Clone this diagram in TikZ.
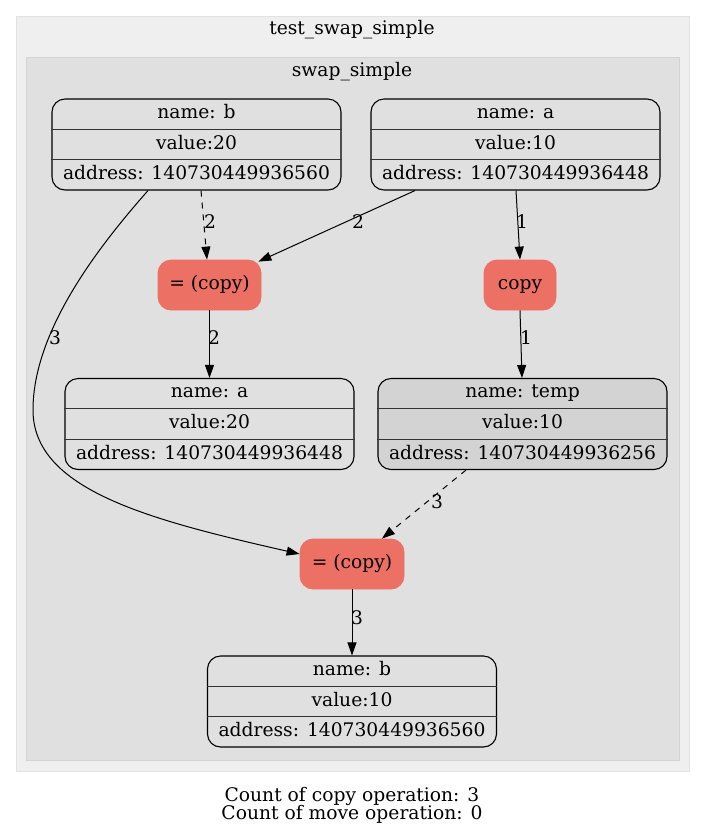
\documentclass[tikz,border=0pt]{standalone}
\usepackage{fontspec}
\setmainfont{DejaVu Serif}
\usetikzlibrary{calc,arrows.meta}
\definecolor{opfill}{RGB}{237,112,100}
\definecolor{outerfill}{RGB}{239,239,239}
\definecolor{outerline}{RGB}{226,226,226}
\definecolor{innerfill}{RGB}{224,224,224}
\definecolor{innerline}{RGB}{211,211,211}
\definecolor{tempfill}{RGB}{211,211,211}
\tikzset{
  every node/.style={font=\fontsize{9.35}{11}\selectfont, inner sep=0pt, text height=6.8pt, text depth=2.2pt},
  rec/.style={draw=black, line width=0.55pt, rounded corners=6.5pt, minimum width=144.5pt, minimum height=45.5pt},
  sepline/.style={draw=black!80, line width=0.6pt},
  op/.style={fill=opfill, draw=opfill, rounded corners=6.5pt, minimum height=25pt},
  conn/.style={draw=black, line width=0.5pt, -{Triangle[length=6.5pt,width=4.5pt]}},
  dashedconn/.style={conn, dash pattern=on 3pt off 3pt},
  cluster/.style={line width=0.5pt},
}
\newcommand\recnode[7]{%
  \node[rec, fill=#4] (#1) at (#2,#3) {};
  \draw[sepline] ($(#1.north west)!0.3333!(#1.south west)$) -- ($(#1.north east)!0.3333!(#1.south east)$);
  \draw[sepline] ($(#1.north west)!0.6667!(#1.south west)$) -- ($(#1.north east)!0.6667!(#1.south east)$);
  \node (#1n) at ($(#1.north)!0.1667!(#1.south)$) {#5};
  \node (#1v) at ($(#1.north)!0.5!(#1.south)$) {#6};
  \node (#1a) at ($(#1.north)!0.8333!(#1.south)$) {#7};
}
\begin{document}
\begin{tikzpicture}[x=0.5pt,y=-0.5pt]
\useasboundingbox[fill=white] (0,0) rectangle (705,837);
% clusters
\draw[cluster, fill=outerfill, draw=outerline] (16,16) rectangle (689,771);
\node (outertitle) at (352,30) {test\_swap\_simple};
\draw[cluster, fill=innerfill, draw=innerline] (26,57) rectangle (679,760);
\node (innertitle) at (352,72) {swap\_simple};
% records
\recnode{b1}{196.5}{144.5}{innerfill}{name: b}{value:20}{address: 140730449936560}
\recnode{a1}{515.5}{144.5}{innerfill}{name: a}{value:10}{address: 140730449936448}
\recnode{a2}{209.5}{424}{innerfill}{name: a}{value:20}{address: 140730449936448}
\recnode{temp}{522.5}{424}{tempfill}{name: temp}{value:10}{address: 140730449936256}
\recnode{b2}{352}{701.5}{innerfill}{name: b}{value:10}{address: 140730449936560}
% operations
\node[op, minimum width=51.5pt] (copy1) at (209.5,285) {= (copy)};
\node[op, minimum width=36pt] (copy2) at (520,285) {copy};
\node[op, minimum width=52pt] (copy3) at (352,564) {= (copy)};
% edges
\draw[dashedconn] ([xshift=2.25pt]b1.south) -- ([xshift=-1.25pt]copy1.north);
\draw[conn] ([xshift=-50.25pt]a1.south) -- ([xshift=-1.5pt,yshift=-1pt]copy1.north east);
\draw[conn] ([xshift=0.25pt]a1.south) -- (copy2.north);
\draw[conn] (copy1.south) -- (a2.north);
\draw[conn] (copy2.south) -- ([xshift=-0.25pt]temp.north);
\draw[conn] ([xshift=-24.25pt]b1.south) .. controls (100,245) and (33,330) .. (33,410)
   .. controls (33,490) and (150,520) .. ([yshift=5pt]copy3.west);
\draw[dashedconn] ([xshift=-28.25pt]temp.south) -- ([xshift=15pt]copy3.north);
\draw[conn] (copy3.south) -- (b2.north);
% edge labels
\node (l1) at (210,224) {2};
\node (l2) at (358,224) {2};
\node (l3) at (522,224) {1};
\node (l4) at (214,340) {2};
\node (l5) at (526,340) {1};
\node (l6) at (55,340) {3};
\node (l7) at (437,504) {3};
\node (l8) at (357,620) {3};
% footer
\node (foot1) at (352,797) {Count of copy operation: 3};
\node (foot2) at (352,815) {Count of move operation: 0};
\end{tikzpicture}
\end{document}
